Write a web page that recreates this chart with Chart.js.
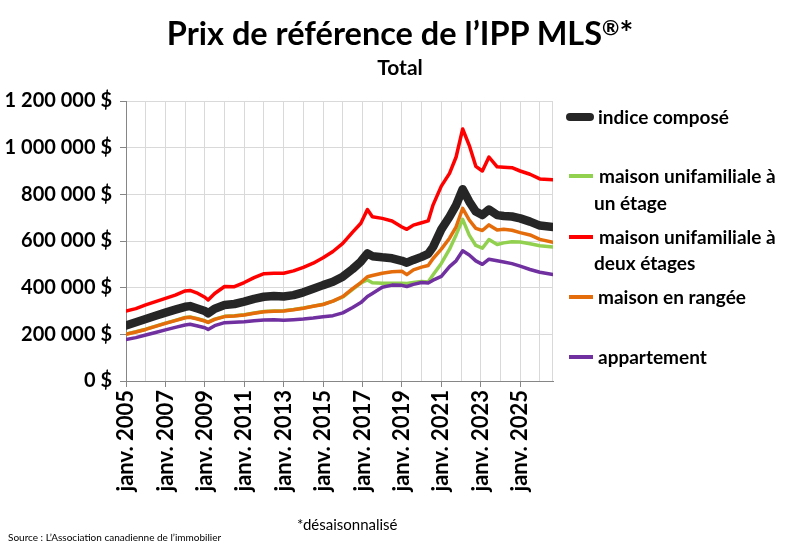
<!DOCTYPE html>
<html><head><meta charset="utf-8">
<script src="https://cdn.jsdelivr.net/npm/chart.js@4.4.0/dist/chart.umd.min.js"></script>
<style>
html,body{margin:0;padding:0;background:#fff;}
#wrap{position:relative;width:800px;height:548px;overflow:hidden;font-family:Lato,'Open Sans',sans-serif;color:#000;}
#c{position:absolute;left:0;top:0;}
.t{position:absolute;white-space:nowrap;}
.b{font-weight:bold;}
.lg{font-size:19px;line-height:22px;font-weight:bold;}
.mk{position:absolute;}
.sup{font-size:21px;position:relative;top:-10px;}
</style></head><body>
<div id="wrap">
<canvas id="c" width="800" height="548"></canvas>
<div class="t b" style="left:0;width:800px;text-align:center;top:13px;font-size:32.5px;line-height:40px;">Prix de référence de l’IPP MLS<span class="sup">®</span>*</div>
<div class="t b" style="left:0;width:800px;text-align:center;top:55px;font-size:21px;line-height:24px;">Total</div>

<div class="mk" style="left:566px;top:113px;width:28px;height:8px;background:#262626;border-radius:4px;"></div>
<div class="t lg" style="left:598px;top:106px;">indice composé</div>

<div class="mk" style="left:569px;top:174px;width:24px;height:4px;background:#92d050;"></div>
<div class="t lg" style="left:599px;top:165px;">maison unifamiliale à</div>
<div class="t lg" style="left:594px;top:192px;">un étage</div>

<div class="mk" style="left:569px;top:235px;width:24px;height:4px;background:#ff0000;"></div>
<div class="t lg" style="left:599px;top:226px;">maison unifamiliale à</div>
<div class="t lg" style="left:594px;top:252px;">deux étages</div>

<div class="mk" style="left:569px;top:295px;width:24px;height:4px;background:#e46c0a;"></div>
<div class="t lg" style="left:598px;top:286px;">maison en rangée</div>

<div class="mk" style="left:569px;top:355px;width:24px;height:4px;background:#7030a0;"></div>
<div class="t lg" style="left:598px;top:346px;">appartement</div>

<div class="t" style="left:297px;top:515px;font-size:15px;line-height:18px;">*désaisonnalisé</div>
<div class="t" style="left:8px;top:531px;font-size:10px;line-height:12px;">Source : L’Association canadienne de l’immobilier</div>
</div>
<script>
// Dates (year-month) of the points
const dates = ['2005-01','2005-07','2006-01','2006-07','2007-01','2007-07','2008-01','2008-04','2008-08','2009-01','2009-03','2009-07','2010-01','2010-07','2011-01','2011-07','2012-01','2012-07','2013-01','2013-07','2014-01','2014-07','2015-01','2015-07','2016-01','2016-07','2016-12','2017-04','2017-07','2018-01','2018-07','2019-01','2019-04','2019-08','2020-01','2020-05','2020-08','2021-01','2021-06','2021-10','2022-02','2022-06','2022-10','2023-02','2023-06','2023-11','2024-03','2024-08','2025-01','2025-07','2026-01','2026-09'];

const indiceCompose = [238000,252000,266000,280000,293000,306000,318000,321000,312000,300000,290000,310000,326000,330000,340000,352000,361000,364000,362000,368000,380000,395000,411000,425000,447000,480000,512000,547000,535000,530000,526000,515000,507000,519000,532000,545000,575000,650000,704000,754000,822000,769000,726000,711000,735000,711000,707000,705000,697000,683000,666000,660000];

const unEtage = [201000,211000,222000,235000,248000,260000,272000,274000,268000,258000,252000,265000,277000,280000,284000,291000,298000,300000,301000,306000,313000,321000,329000,342000,360000,393000,420000,433000,421000,419000,419000,419000,418000,422000,427000,424000,455000,504000,565000,626000,693000,625000,581000,569000,606000,585000,592000,597000,596000,588000,580000,574000];

const deuxEtages = [300000,310000,326000,340000,354000,368000,386000,388000,378000,359000,347000,375000,405000,404000,422000,443000,460000,462000,462000,472000,487000,505000,528000,555000,590000,638000,676000,735000,704000,697000,686000,660000,650000,668000,678000,686000,755000,835000,890000,960000,1080000,1010000,920000,900000,960000,918000,916000,914000,900000,886000,866000,862000];

const enRangee = [200000,210000,221000,234000,247000,259000,271000,273000,267000,257000,251000,264000,276000,279000,283000,290000,297000,299000,300000,305000,312000,320000,328000,342000,362000,396000,422000,447000,452000,462000,468000,470000,456000,476000,488000,495000,525000,565000,612000,661000,740000,690000,654000,645000,669000,647000,650000,646000,636000,626000,607000,595000];

const appartement = [178000,186000,197000,208000,219000,230000,240000,243000,237000,228000,221000,237000,250000,252000,254000,258000,261000,262000,260000,263000,266000,270000,275000,280000,292000,315000,336000,362000,375000,402000,411000,410000,405000,414000,422000,420000,432000,448000,490000,515000,558000,540000,515000,500000,522000,515000,510000,503000,492000,478000,466000,456000];

const seriesNames = ['indice composé','maison unifamiliale à un étage','maison unifamiliale à deux étages','maison en rangée','appartement'];
const yTicks = [0,200000,400000,600000,800000,1000000,1200000];

const toX = s => { const p = s.split('-').map(Number); return p[0] + (p[1]-1)/12; };
const pts = arr => arr.map((v,i) => ({x: toX(dates[i]), y: v}));
const fmt = v => String(v).replace(/\B(?=(\d{3})+(?!\d))/g, ' ') + ' $';

const FONT = 'Lato';
const xMin = toX(dates[0]), xMax = toX(dates[dates.length-1]);

const rightBorder = {
  id: 'rightBorder',
  beforeDatasetsDraw(chart){
    const a = chart.chartArea, ctx = chart.ctx;
    ctx.save(); ctx.strokeStyle = '#d9d9d9'; ctx.lineWidth = 1;
    ctx.beginPath(); ctx.moveTo(a.right - 0.5, a.top); ctx.lineTo(a.right - 0.5, a.bottom); ctx.stroke();
    ctx.restore();
  }
};

const mk = (label, data, color, width, order) => ({
  label, data: pts(data), borderColor: color, backgroundColor: color,
  borderWidth: width, pointRadius: 0, tension: 0, order,
  borderCapStyle: 'round', borderJoinStyle: 'round', fill: false
});

new Chart(document.getElementById('c'), {
  type: 'line',
  data: {
    datasets: [
      mk(seriesNames[4], appartement, '#7030a0', 3.5, 0),
      mk(seriesNames[3], enRangee, '#e46c0a', 3.5, 1),
      mk(seriesNames[2], deuxEtages, '#ff0000', 3.5, 2),
      mk(seriesNames[1], unEtage, '#92d050', 3.5, 3),
      mk(seriesNames[0], indiceCompose, '#262626', 8.5, 4)
    ]
  },
  plugins: [rightBorder],
  options: {
    responsive: false, animation: false, devicePixelRatio: 1,
    layout: { padding: { left: 0, top: 101, right: 247, bottom: 0 } },
    plugins: { legend: { display: false }, tooltip: { enabled: false } },
    scales: {
      x: {
        type: 'linear', min: xMin, max: xMax,
        afterFit(s){ s.height = 167; },
        border: { color: '#868686', width: 1 },
        grid: {
          color: '#d9d9d9', lineWidth: 1, tickLength: 6,
          tickColor: ctx => (ctx.tick && Math.round(ctx.tick.value - 2005) % 2 === 0) ? '#868686' : 'rgba(0,0,0,0)'
        },
        ticks: {
          stepSize: 1, autoSkip: false, includeBounds: false,
          minRotation: 90, maxRotation: 90, padding: 3,
          color: '#000', font: { family: FONT, size: 22, weight: 'bold' },
          callback: v => (Math.round(v - 2005) % 2 === 0 && Math.abs(v - Math.round(v)) < 1e-6) ? 'janv. ' + v : ''
        }
      },
      y: {
        min: 0, max: 1200000,
        afterFit(s){ s.width = 126; },
        afterBuildTicks(s){ s.ticks = yTicks.map(v => ({value: v})); },
        border: { color: '#868686', width: 1 },
        grid: { color: '#d9d9d9', lineWidth: 1, tickLength: 6, tickColor: '#868686' },
        ticks: {
          padding: 8, color: '#000',
          font: { family: FONT, size: 20, weight: 'bold' },
          callback: v => fmt(v)
        }
      }
    }
  }
});
</script>
</body></html>
